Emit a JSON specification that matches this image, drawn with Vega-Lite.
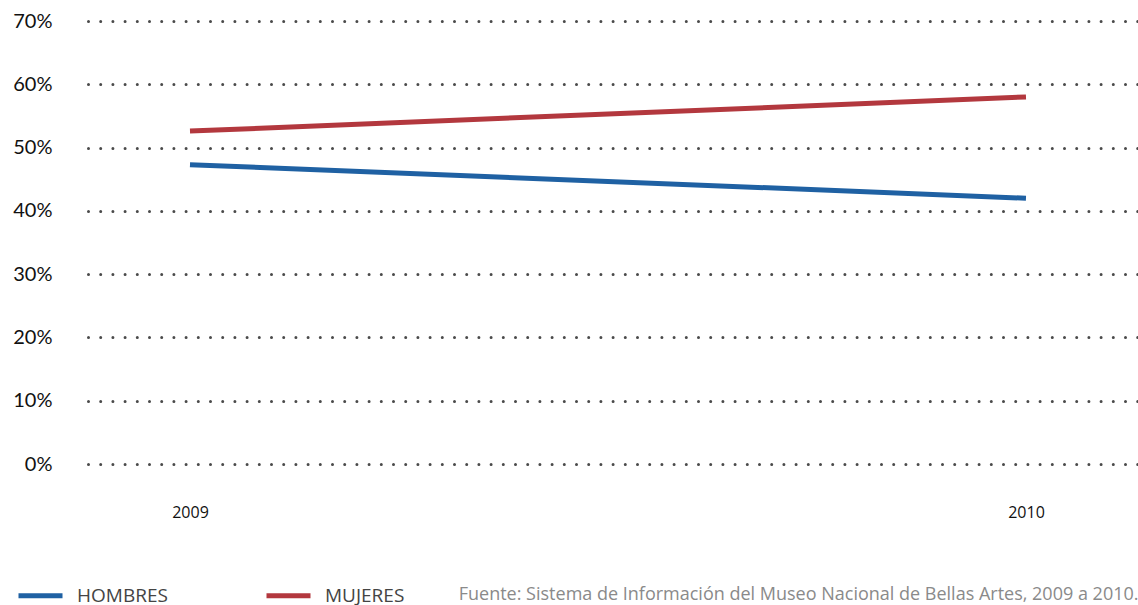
{
  "$schema": "https://vega.github.io/schema/vega-lite/v6.json",
  "width": 1050,
  "height": 443,
  "autosize": "none",
  "padding": {"left": 88, "top": 21, "right": 0, "bottom": 141},
  "background": "white",
  "config": {"view": {"stroke": null}, "font": "Open Sans"},
  "data": {
    "values": [
      {"year": 2009, "sexo": "HOMBRES", "pct": 47.3},
      {"year": 2010, "sexo": "HOMBRES", "pct": 42.0},
      {"year": 2009, "sexo": "MUJERES", "pct": 52.6},
      {"year": 2010, "sexo": "MUJERES", "pct": 58.0}
    ]
  },
  "mark": {"type": "line", "strokeWidth": 5, "strokeCap": "butt"},
  "encoding": {
    "x": {
      "field": "year",
      "type": "quantitative",
      "scale": {"domain": [2008.878, 2010.134], "nice": false, "zero": false},
      "axis": {
        "values": [2009, 2010],
        "format": "d",
        "title": "Fuente: Sistema de Información del Museo Nacional de Bellas Artes, 2009 a 2010.",
        "titleAnchor": "end",
        "titleAlign": "right",
        "titleBaseline": "middle",
        "titleX": 1050,
        "titleY": 130,
        "titleFontSize": 18,
        "titleFontWeight": "normal",
        "titleColor": "#8a8a8a",
        "titleFont": "Open Sans",
        "domain": false,
        "ticks": false,
        "grid": false,
        "labelFontSize": 16,
        "labelColor": "#111",
        "labelPadding": 40,
        "labelFont": "Open Sans"
      }
    },
    "y": {
      "field": "pct",
      "type": "quantitative",
      "scale": {"domain": [0, 70], "nice": false},
      "axis": {
        "values": [0, 10, 20, 30, 40, 50, 60, 70],
        "labelExpr": "datum.value + '%'",
        "title": null,
        "domain": false,
        "ticks": false,
        "labelPadding": 36,
        "labelFontSize": 20,
        "labelColor": "#111",
        "labelFont": "Lato",
        "grid": true,
        "gridDash": [0, 12.2],
        "gridCap": "round",
        "gridWidth": 3,
        "gridColor": "#4a4a4a",
        "gridOpacity": 1
      }
    },
    "color": {
      "field": "sexo",
      "type": "nominal",
      "scale": {"domain": ["HOMBRES", "MUJERES"], "range": ["#1f61a3", "#b3383e"]},
      "legend": {
        "title": null,
        "orient": "none",
        "legendX": -72,
        "legendY": 550,
        "direction": "horizontal",
        "symbolType": "stroke",
        "symbolSize": 1936,
        "symbolStrokeWidth": 5,
        "labelFontSize": 19,
        "labelColor": "#444",
        "labelFont": "Open Sans",
        "labelOffset": 12,
        "columnPadding": 88
      }
    }
  }
}
